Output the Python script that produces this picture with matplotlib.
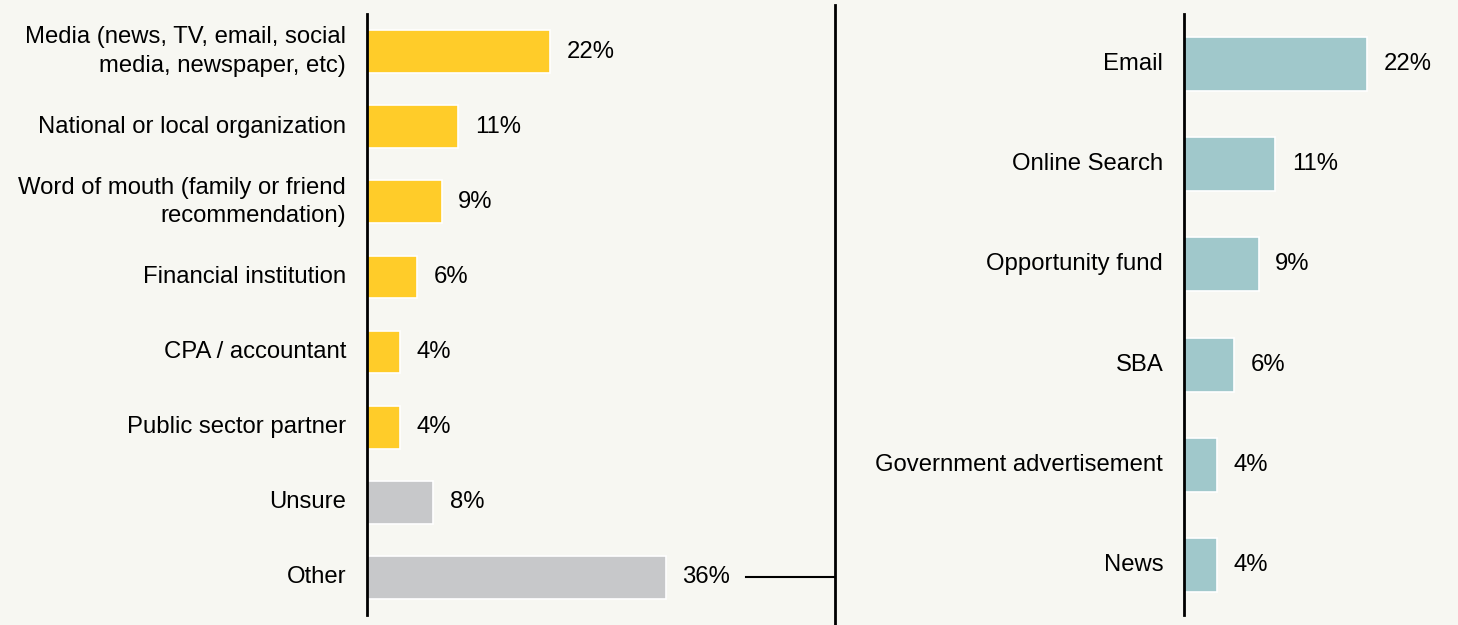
import matplotlib
matplotlib.use('Agg')
import matplotlib.pyplot as plt
import matplotlib.transforms as mtransforms
from matplotlib.lines import Line2D

plt.rcParams['font.family'] = ['Liberation Sans', 'DejaVu Sans']

# How respondents heard about the program
source_labels = [
    'Media (news, TV, email, social\nmedia, newspaper, etc)',
    'National or local organization',
    'Word of mouth (family or friend\nrecommendation)',
    'Financial institution',
    'CPA / accountant',
    'Public sector partner',
    'Unsure',
    'Other',
]
source_values = [22, 11, 9, 6, 4, 4, 8, 36]

# Breakdown of "Other"
other_labels = ['Email', 'Online Search', 'Opportunity fund', 'SBA',
                'Government advertisement', 'News']
other_values = [22, 11, 9, 6, 4, 4]

BG = '#f7f7f2'
YELLOW = '#ffcc29'
GREY = '#c7c8ca'
TEAL = '#a0c8cb'
FS = 17.2

W, H = 1458, 625
fig = plt.figure(figsize=(W / 100, H / 100), dpi=100, facecolor=BG)

px_per_pct = 8.3


def panel(left_px, labels, values, colors, xmax, bar_h):
    ax = fig.add_axes([left_px / W, 10 / H, xmax * px_per_pct / W, 601 / H])
    ax.set_facecolor('none')
    y = list(range(len(labels)))
    ax.barh(y, values, height=bar_h, color=colors, edgecolor='white', linewidth=1.2)
    ax.set_xlim(0, xmax)
    ax.set_ylim(len(labels) - 0.5, -0.5)
    ax.set_yticks(y)
    ax.set_yticklabels(labels, fontsize=FS, linespacing=1.38, va='center')
    ax.tick_params(axis='y', length=0, pad=15)
    ax.set_xticks([])
    for s in ['top', 'right', 'bottom']:
        ax.spines[s].set_visible(False)
    ax.spines['left'].set_linewidth(2)
    ax.spines['left'].set_color('black')
    for yi, v in zip(y, values):
        ax.annotate(f'{v}%', (v, yi), xytext=(12, 0), textcoords='offset points',
                    va='center', ha='left', fontsize=FS)
    return ax


left_colors = [YELLOW] * 6 + [GREY] * 2
ax1 = panel(367, source_labels, source_values, left_colors, 40, 0.57)
ax2 = panel(1184, other_labels, other_values, [TEAL] * 6, 30, 0.54)

# divider between the panels
div_x = 835 / W
fig.add_artist(Line2D([div_x, div_x], [0, 1 - 5 / H], color='black', linewidth=2))

# connector from "Other" to the breakdown
trans = mtransforms.blended_transform_factory(fig.transFigure, ax1.transData)
other_idx = source_labels.index('Other')
fig.add_artist(Line2D([746 / W, div_x], [other_idx, other_idx], transform=trans,
                      color='black', linewidth=1.5))

fig.savefig('out.png', dpi=100, facecolor=BG)
